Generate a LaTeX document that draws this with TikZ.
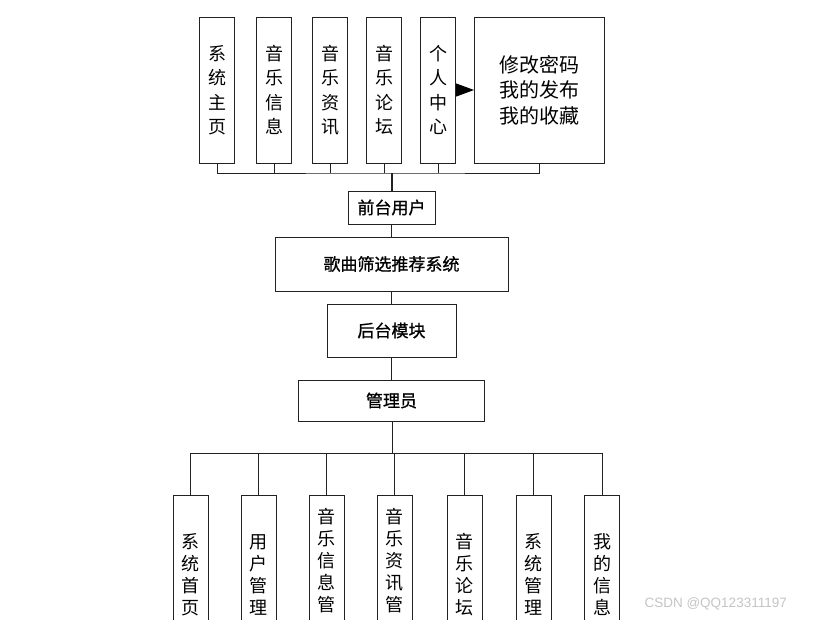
\documentclass[tikz,border=0pt]{standalone}
\usepackage{fontspec}
\setmainfont{Liberation Sans}
\newfontfamily\cjk{Noto Sans CJK SC}
\newfontfamily\cjkbold[FakeBold=1.0]{Noto Sans CJK SC}
\usetikzlibrary{positioning,arrows.meta,calc}
\definecolor{LineGray}{HTML}{222222}
\definecolor{MarkGray}{HTML}{C4C4C4}

\begin{document}
\begin{tikzpicture}[
      x=1pt, y=-1pt,
      font=\cjk,
      vbox/.style={
        draw=LineGray, line width=1pt, align=center,
        inner sep=0pt, minimum width=35pt, minimum height=146pt,
        fill=white, font=\cjk\fontsize{18}{24.5}\selectfont
      },
      lowbox/.style={vbox, minimum height=158pt, font=\cjk\fontsize{18}{22}\selectfont},
      midbox/.style={
        draw=LineGray, line width=1pt, align=center,
        inner sep=0pt, fill=white, font=\cjkbold\fontsize{17}{17}\selectfont
      },
      wire/.style={draw=LineGray, line width=1pt},
      arr/.style={-{Triangle[length=18pt,width=13pt]}, line width=1pt, color=black}
    ]
      \useasboundingbox (0,0) rectangle (818,619);
      \clip (0,0) rectangle (818,619);
      % top row: front-end pages
      \node[vbox] (home) at (217,90) {系\\统\\主\\页};
      \node[vbox, right=21pt of home] (info) {音\\乐\\信\\息};
      \node[vbox, right=20pt of info] (news) {音\\乐\\资\\讯};
      \node[vbox, right=18pt of news] (forum) {音\\乐\\论\\坛};
      \node[vbox, right=18pt of forum] (center) {个\\人\\中\\心};
      \node[vbox, minimum width=130pt, right=18pt of center,
            font=\cjk\fontsize{20}{25.5}\selectfont] (mine) {修改密码\\我的发布\\我的收藏};
      \draw[arr] (center.east) -- (mine.west);
      % middle chain
      \node[midbox, minimum width=87pt, minimum height=33pt] (front) at (391.5,207.5) {前台用户};
      \node[midbox, minimum width=233pt, minimum height=54pt, below=12pt of front] (sys) {歌曲筛选推荐系统};
      \node[midbox, minimum width=129pt, minimum height=53pt, below=12pt of sys] (back) {后台模块};
      \node[midbox, minimum width=186pt, minimum height=41pt, below=22pt of back] (admin) {管理员};
      \coordinate (topbus) at (392,173);
      \coordinate (lowbus) at (392,453);
      \draw[wire] (home.south) |- (topbus) -| (mine.south);
      \draw[wire] (info.south) -- (info.south |- topbus);
      \draw[wire] (news.south) -- (news.south |- topbus);
      \draw[wire] (forum.south) -- (forum.south |- topbus);
      \draw[wire] (center.south) -- (center.south |- topbus);
      \draw[wire, line width=1.8pt] (topbus) -- (topbus |- front.north);
      \draw[wire] (front) -- (sys);
      \draw[wire] (sys) -- (back);
      \draw[wire] (back) -- (admin);
      % bottom row: admin pages
      \node[lowbox, anchor=north] (aHome) at (190.5,495) {系\\统\\首\\页};
      \node[lowbox, anchor=north] (aUser) at (258.5,495) {用\\户\\管\\理};
      \node[lowbox, anchor=north] (aInfo) at (326.5,495) {音\\乐\\信\\息\\管\\\strut};
      \node[lowbox, anchor=north] (aNews) at (394.5,495) {音\\乐\\资\\讯\\管\\\strut};
      \node[lowbox, anchor=north] (aForum) at (464.5,495) {音\\乐\\论\\坛};
      \node[lowbox, anchor=north] (aSys) at (533.5,495) {系\\统\\管\\理};
      \node[lowbox, anchor=north] (aMine) at (602,495) {我\\的\\信\\息};
      \draw[wire] (admin.south -| lowbus) -- (lowbus);
      \draw[wire] (aHome.north) |- (lowbus) -| (aMine.north);
      \draw[wire] (aUser.north) -- (aUser.north |- lowbus);
      \draw[wire] (aInfo.north) -- (aInfo.north |- lowbus);
      \draw[wire] (aNews.north) -- (aNews.north |- lowbus);
      \draw[wire] (aForum.north) -- (aForum.north |- lowbus);
      \draw[wire] (aSys.north) -- (aSys.north |- lowbus);
      \node[anchor=west, text=MarkGray, font=\fontsize{13.5}{13.5}\selectfont] (mark) at (641,604) {CSDN @QQ123311197};
    \end{tikzpicture}
\end{document}
